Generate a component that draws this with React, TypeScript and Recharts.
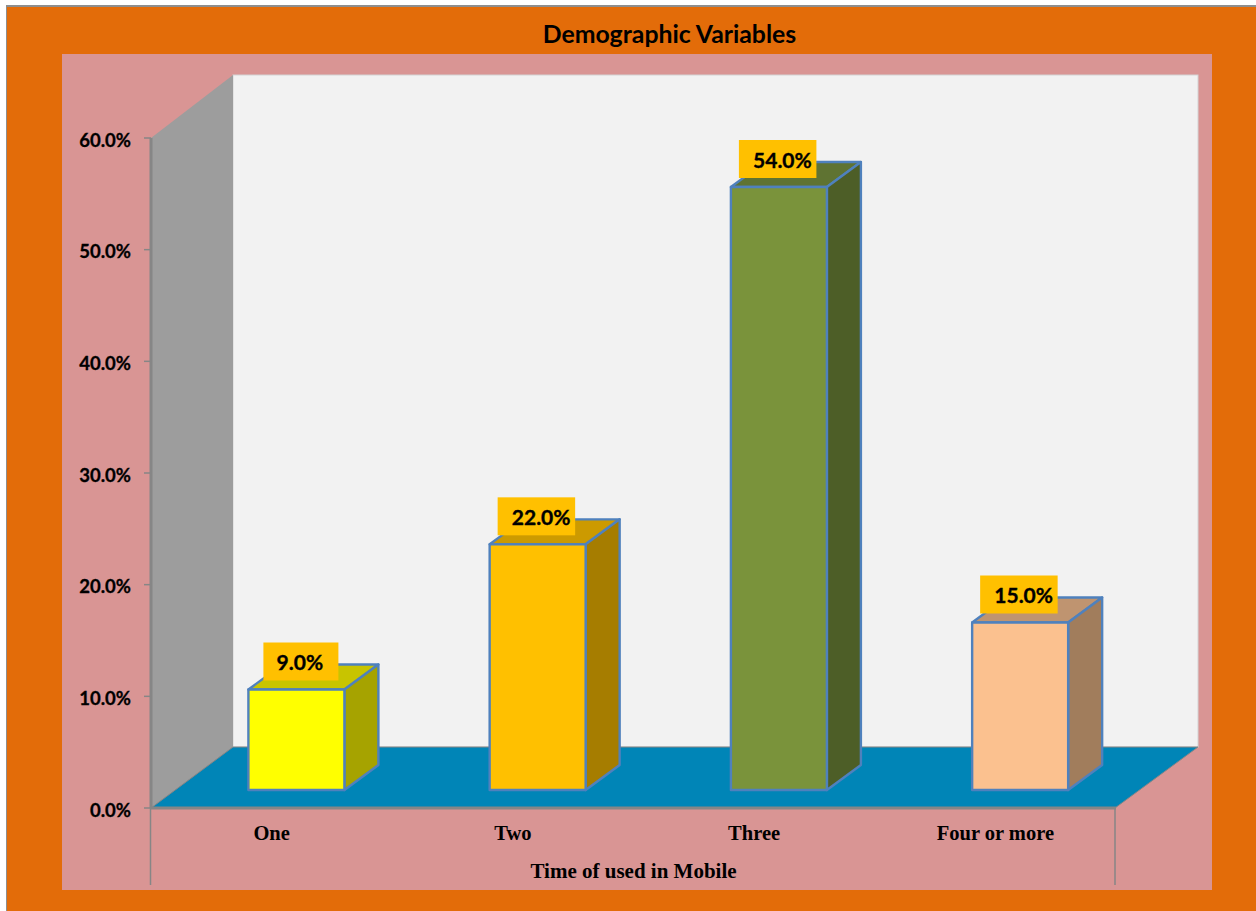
import React from "react";
import { BarChart, Bar, XAxis, YAxis, Cell, LabelList, Label } from "recharts";

const categories = ["One", "Two", "Three", "Four or more"];
const values = [9, 22, 54, 15];
const yTicks = [0, 10, 20, 30, 40, 50, 60];
const frontColors = ["#FFFF00", "#FFC000", "#7A933B", "#FBC18F"];
const topColors = ["#C8C400", "#CC9A00", "#5F7332", "#BF9470"];
const sideColors = ["#A6A300", "#A67D00", "#4D5E27", "#A17D5C"];
const title = "Demographic Variables";
const xTitle = "Time of used in Mobile";

const data = categories.map((name, i) => ({ name, value: values[i] }));

const W = 1256;
const H = 911;
const SHIFT_X = 24.4;
const SHIFT_Y = -18;
const DEPTH_X = 34;
const DEPTH_Y = -25;
const EDGE = "#4F81BD";
const AXIS = "#868686";

const fmt = (v: number) => `${v.toFixed(1)}%`;

function Box3D(props: any) {
  const { x, y, width, height, index } = props;
  const l = x + SHIFT_X;
  const t = y + SHIFT_Y;
  const r = l + width;
  const b = t + height;
  const common = { stroke: EDGE, strokeWidth: 2.4, strokeLinejoin: "round" as const };
  return (
    <g>
      <polygon
        points={`${l},${t} ${l + DEPTH_X},${t + DEPTH_Y} ${r + DEPTH_X},${t + DEPTH_Y} ${r},${t}`}
        fill={topColors[index]}
        {...common}
      />
      <polygon
        points={`${r},${t} ${r + DEPTH_X},${t + DEPTH_Y} ${r + DEPTH_X},${b + DEPTH_Y} ${r},${b}`}
        fill={sideColors[index]}
        {...common}
      />
      <rect x={l} y={t} width={width} height={height} fill={frontColors[index]} {...common} />
    </g>
  );
}

function GoldLabel(props: any) {
  const { x, y, value } = props;
  const text = fmt(Number(value));
  const short = text.length < 5;
  const l = x + SHIFT_X;
  const t = y + SHIFT_Y;
  const rx = l + (short ? 15 : 8);
  const rw = short ? 75 : 77.5;
  const cx = l + 51.5;
  return (
    <g>
      <rect x={rx} y={t - 47} width={rw} height={38} fill="#FFC000" />
      <text
        x={cx}
        y={t - 28}
        textAnchor="middle"
        dominantBaseline="central"
        fontFamily="Lato, sans-serif"
        fontWeight={700}
        fontSize={21}
        stroke="#000"
        strokeWidth={0.35}
        fill="#000"
      >
        {text}
      </text>
    </g>
  );
}

function Backdrop() {
  return (
    <svg width={W} height={H} style={{ position: "absolute", left: 0, top: 0 }}>
      <rect x={6} y={5} width={W - 6} height={H - 5} fill="#8E8E8E" />
      <rect x={7} y={7} width={W - 7} height={H - 7} fill="#E36C09" />
      <rect x={62} y={54} width={1150} height={836} fill="#D99594" />
      <rect x={233} y={75} width={965} height={672} fill="#F2F2F2" stroke="#D4D4D4" strokeWidth={1} />
      <polygon points="151,138 233,75 233,747 151,808" fill="#9D9D9D" />
      <polygon points="151,808 233,747 1198,747 1115,808" fill="#0085B7" stroke="#868686" strokeWidth={1} />
      <line x1={150.5} y1={808} x2={150.5} y2={885} stroke={AXIS} strokeWidth={1.5} />
      <line x1={1115} y1={808} x2={1115} y2={885} stroke={AXIS} strokeWidth={1.5} />
      <text
        x={669.5}
        y={33}
        textAnchor="middle"
        dominantBaseline="central"
        fontFamily="Lato, sans-serif"
        fontWeight={700}
        fontSize={24.8}
        fill="#000"
      >
        {title}
      </text>
    </svg>
  );
}

export default function App() {
  return (
    <div style={{ position: "absolute", left: 0, top: 0, width: W, height: H, overflow: "hidden" }}>
      <Backdrop />
      <div style={{ position: "absolute", left: 0, top: 0 }}>
        <BarChart
          width={W}
          height={H}
          data={data}
          margin={{ top: 138, right: 140, bottom: 0, left: 0 }}
          barSize={96}
        >
          <YAxis
            width={151}
            domain={[0, 60]}
            ticks={yTicks}
            tickFormatter={fmt}
            interval={0}
            tickSize={7}
            tickMargin={13}
            axisLine={{ stroke: AXIS, strokeWidth: 3 }}
            tickLine={{ stroke: AXIS, strokeWidth: 1.5 }}
            tick={{
              fontFamily: "Lato, sans-serif",
              fontWeight: 700,
              fontSize: 18.5,
              fill: "#000",
              stroke: "#000",
              strokeWidth: 0.3,
              dy: 2,
            }}
          />
          <XAxis
            dataKey="name"
            height={103}
            interval={0}
            tickLine={false}
            tickMargin={11}
            axisLine={{ stroke: AXIS, strokeWidth: 3 }}
            tick={{ fontFamily: "Liberation Serif, serif", fontWeight: 700, fontSize: 20.5, fill: "#000" }}
          >
            <Label
              value={xTitle}
              position="insideBottom"
              offset={33}
              style={{ fontFamily: "Liberation Serif, serif", fontWeight: 700, fontSize: 21, fill: "#000" }}
            />
          </XAxis>
          <Bar dataKey="value" shape={<Box3D />} isAnimationActive={false}>
            {data.map((d) => (
              <Cell key={d.name} />
            ))}
            <LabelList dataKey="value" content={<GoldLabel />} />
          </Bar>
        </BarChart>
      </div>
    </div>
  );
}
